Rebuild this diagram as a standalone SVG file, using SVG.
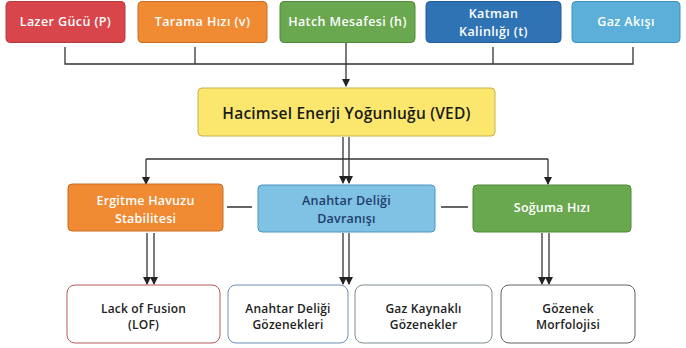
<svg xmlns="http://www.w3.org/2000/svg" width="686" height="348" viewBox="0 0 686 348">
<defs>
<marker id="ah" markerUnits="userSpaceOnUse" markerWidth="8" markerHeight="8" refX="7" refY="4" orient="auto"><path d="M0,0 L8,4 L0,8 Z" fill="#222"/></marker>
<style>
text{font-family:"Open Sans","Noto Sans","Liberation Sans",sans-serif;font-weight:600;text-anchor:middle;dominant-baseline:central}
.w{fill:#fff;font-size:12.5px;letter-spacing:0.4px}
.m{fill:#fff;font-size:12.5px;letter-spacing:0.2px}
.d{fill:#222;font-size:12px;letter-spacing:0.2px}
.c{stroke:#333;stroke-width:1.3;fill:none}
.a{stroke:#333;stroke-width:1.3;fill:none;marker-end:url(#ah)}
</style>
</defs>
<rect width="686" height="348" fill="#fff"/>
<g id="connectors">
<path class="c" d="M65,47V64H633V47M195,47V64M493,47V64"/>
<path class="a" d="M346,43V86"/>
<path class="a" d="M343,137V183"/>
<path class="a" d="M349,137V183"/>
<path class="c" d="M146,159H548"/>
<path class="a" d="M146,159V184"/>
<path class="a" d="M548,159V184"/>
<path class="c" d="M227,207H252M441,207H468"/>
<path class="a" d="M147,233V284"/>
<path class="a" d="M154,233V284"/>
<path class="a" d="M343,233V284"/>
<path class="a" d="M349,233V284"/>
<path class="a" d="M542,233V284"/>
<path class="a" d="M549,233V284"/>
</g>
<g id="lazer"><rect x="6" y="1.5" width="119" height="41" rx="4" fill="#d8464b" stroke="#b53a3e"/><text class="w" x="65.5" y="21">Lazer Gücü (P)</text></g>
<g id="tarama"><rect x="138" y="1.5" width="129" height="41" rx="4" fill="#f08a33" stroke="#c96d22"/><text class="w" x="202.5" y="21">Tarama Hızı (v)</text></g>
<g id="hatch"><rect x="280" y="1.5" width="135" height="41" rx="4" fill="#6aa84f" stroke="#4f8a3a"/><text class="w" x="347.5" y="21">Hatch Mesafesi (h)</text></g>
<g id="katman"><rect x="426" y="1.5" width="135" height="41" rx="4" fill="#2f73b5" stroke="#245c94"/><text class="w" x="493.5" y="13.5">Katman</text><text class="w" x="493.5" y="31">Kalinlığı (t)</text></g>
<g id="gaz"><rect x="572" y="1.5" width="108" height="41" rx="4" fill="#5cafd8" stroke="#3f8fbb"/><text class="w" x="626" y="21">Gaz Akışı</text></g>
<g id="ved"><rect x="198" y="88" width="297" height="48" rx="4" fill="#fbe76e" stroke="#c8b24a"/><text x="346.5" y="112.5" style="font-size:15.5px;letter-spacing:0.2px;fill:#1a1a1a">Hacimsel Enerji Yoğunluğu (VED)</text></g>
<g id="ergitme"><rect x="68" y="184" width="155" height="47" rx="4" fill="#f08a33" stroke="#c96d22"/><text class="m" x="145.5" y="200.5">Ergitme Havuzu</text><text class="m" x="145.5" y="218">Stabilitesi</text></g>
<g id="anahtar"><rect x="258" y="185" width="177" height="47" rx="4" fill="#7fc2e3" stroke="#4d95c0"/><text class="m" x="346.5" y="200.5" style="fill:#1f3d6b">Anahtar Deliği</text><text class="m" x="346.5" y="218" style="fill:#1f3d6b">Davranışı</text></g>
<g id="soguma"><rect x="473" y="185" width="158" height="47" rx="4" fill="#6aa84f" stroke="#4f8a3a"/><text class="m" x="552" y="207">Soğuma Hızı</text></g>
<g id="lof"><rect x="67" y="285" width="153" height="58" rx="8" fill="#fff" stroke="#b5585a"/><text class="d" x="143.5" y="308">Lack of Fusion</text><text class="d" x="143.5" y="324.5">(LOF)</text></g>
<g id="anahtargoz"><rect x="228" y="285" width="120" height="58" rx="8" fill="#fff" stroke="#6a8fb8"/><text class="d" x="288" y="308">Anahtar Deliği</text><text class="d" x="288" y="324.5">Gözenekleri</text></g>
<g id="gazkay"><rect x="355" y="285" width="137" height="58" rx="8" fill="#fff" stroke="#7d8b90"/><text class="d" x="423.5" y="308">Gaz Kaynaklı</text><text class="d" x="423.5" y="324.5">Gözenekler</text></g>
<g id="morf"><rect x="501" y="285" width="134" height="58" rx="8" fill="#fff" stroke="#5a6266"/><text class="d" x="568" y="308">Gözenek</text><text class="d" x="568" y="324.5">Morfolojisi</text></g>
</svg>
